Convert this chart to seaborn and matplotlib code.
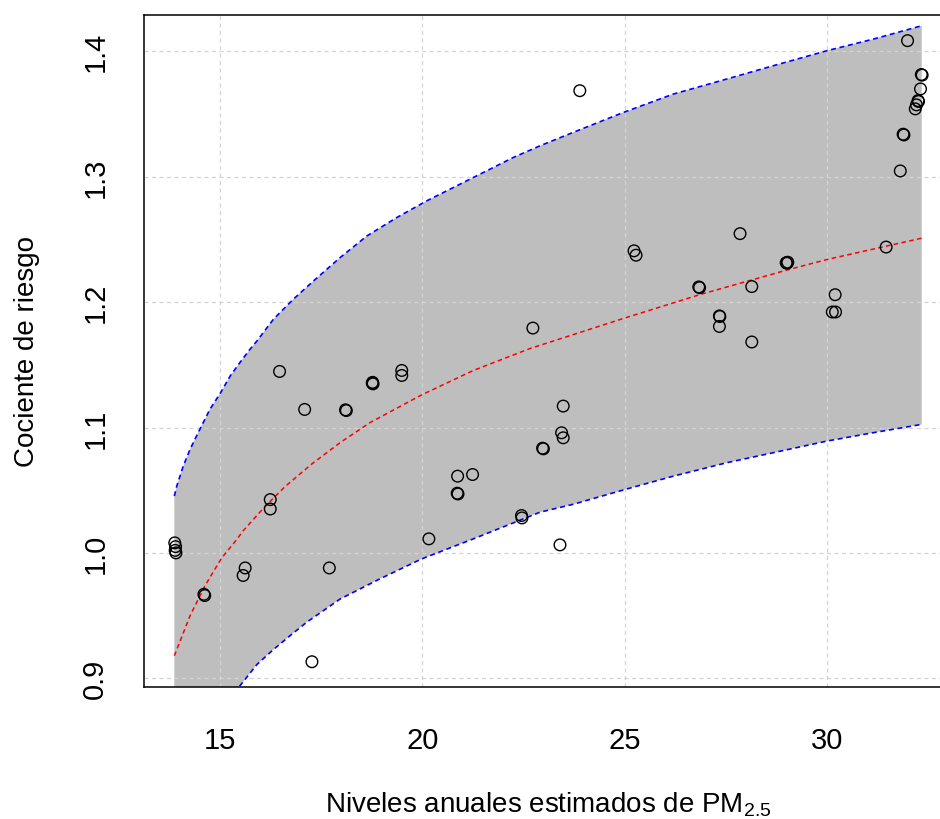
import numpy as np
import pandas as pd
import matplotlib
matplotlib.use("Agg")
import matplotlib.pyplot as plt
import seaborn as sns

# ---------------- data ----------------
pm_x = [13.88, 13.90, 13.89, 13.91,
        14.60, 14.62,
        15.62, 15.57,
        16.24, 16.24,
        16.47, 17.09, 17.27, 17.70,
        18.10, 18.12,
        18.76, 18.78, 18.77,
        19.49, 19.49,
        20.16, 20.87, 21.24,
        20.86, 20.88,
        22.45, 22.46,
        22.73,
        22.97, 22.99,
        23.40, 23.48, 23.44, 23.48,
        23.89,
        25.23, 25.28,
        26.83, 26.85,
        27.34, 27.35, 27.34,
        27.85, 28.14, 28.14,
        28.99, 29.01, 29.03,
        30.20, 30.13, 30.21,
        31.46, 31.81,
        31.88, 31.90,
        31.99,
        32.33, 32.35,
        32.31, 32.25, 32.26, 32.21, 32.18]
rr_y = [1.008, 1.005, 1.002, 1.000,
        0.967, 0.966,
        0.988, 0.982,
        1.0425, 1.035,
        1.1447, 1.1144, 0.9132, 0.988,
        1.1141, 1.1135,
        1.1354, 1.1348, 1.1360,
        1.1455, 1.1415,
        1.0112, 1.0612, 1.0625,
        1.0476, 1.0470,
        1.0298, 1.0279,
        1.1793,
        1.0835, 1.0830,
        1.0064, 1.1171, 1.0958, 1.0918,
        1.3686,
        1.2409, 1.2374,
        1.2121, 1.2115,
        1.1890, 1.1885, 1.1806,
        1.2546, 1.2124, 1.1682,
        1.2314, 1.2310, 1.2318,
        1.2059, 1.1921, 1.1921,
        1.2439, 1.3046,
        1.3339, 1.3333,
        1.4085,
        1.3815, 1.3810,
        1.3700, 1.3607, 1.3600, 1.3573, 1.3541]

# central estimate (red dashed)
fit_x = [13.87, 14.26, 14.63, 15.04, 15.37, 15.58, 16.11, 16.61, 17.27, 17.97,
         18.71, 19.98, 21.26, 22.66, 24.97, 26.86, 29.00, 30.00, 32.34]
fit_y = [0.918, 0.950, 0.974, 0.996, 1.009, 1.018, 1.037, 1.053, 1.071, 1.088,
         1.104, 1.126, 1.1455, 1.163, 1.187, 1.206, 1.2255, 1.234, 1.251]

# upper band (blue dashed)
up_x = [13.87, 13.93, 14.09, 14.26, 14.46, 14.75, 15.00, 15.25, 15.49, 15.74,
        15.91, 16.32, 16.81, 17.31, 17.97, 18.63, 19.37, 20.11, 21.26, 22.25,
        22.91, 23.73, 24.97, 26.20, 27.52, 28.67, 30.00, 31.15, 32.34]
up_y = [1.0453, 1.0533, 1.0693, 1.0827, 1.0960, 1.1146, 1.1270, 1.1411, 1.1518, 1.1624,
        1.1690, 1.1864, 1.2023, 1.2169, 1.2356, 1.2528, 1.2675, 1.2808, 1.2994, 1.3154,
        1.3247, 1.3354, 1.3513, 1.3659, 1.3779, 1.3885, 1.4005, 1.4098, 1.4204]

# lower band (blue dashed); values left of 15.5 lie below the visible range
lo_x = [13.87, 14.26, 14.75, 15.00, 15.49, 15.91, 16.32, 16.73, 17.14, 17.97,
        18.95, 19.98, 21.26, 22.91, 23.73, 25.01, 26.20, 27.52, 28.67, 30.00,
        31.15, 32.34]
lo_y = [0.806, 0.834, 0.867, 0.882, 0.8940, 0.9110, 0.9230, 0.9340, 0.9447, 0.9633,
        0.9793, 0.9952, 1.0112, 1.0325, 1.0388, 1.0506, 1.0612, 1.0719, 1.0799, 1.0892,
        1.0959, 1.1025]

x_ticks = [15, 20, 25, 30]
y_ticks = [0.9, 1.0, 1.1, 1.2, 1.3, 1.4]
x_label = "Niveles anuales estimados de PM$_{\\mathrm{2.5}}$"
y_label = "Cociente de riesgo"

# ---------------- style ----------------
sns.set_theme(style="white")
plt.rcParams["font.family"] = ["Liberation Sans", "DejaVu Sans"]
plt.rcParams["mathtext.fontset"] = "custom"
plt.rcParams["mathtext.rm"] = "Liberation Sans"
plt.rcParams["mathtext.it"] = "Liberation Sans:italic"
plt.rcParams["mathtext.bf"] = "Liberation Sans:bold"

W, H = 940, 820
fig = plt.figure(figsize=(W / 100, H / 100), dpi=100)
# axes box in pixels: left 144, right 952 (cropped), top 15.7, bottom 687.7
ax = fig.add_axes([144 / W, 1 - 687.7 / H, (952 - 144) / W, (687.7 - 15.7) / H])

# band polygon
poly_x = list(up_x) + list(lo_x[::-1])
poly_y = list(up_y) + list(lo_y[::-1])
ax.fill(poly_x, poly_y, color="#BEBEBE", lw=0, zorder=1)

# grid (dotted lightgray) above the band
for xv in x_ticks:
    ax.axvline(xv, color="#D3D3D3", lw=0.9, ls=(0, (3.2, 2.8)), zorder=2)
for yv in y_ticks:
    ax.axhline(yv, color="#D3D3D3", lw=0.9, ls=(0, (3.2, 2.8)), zorder=2)

df_up = pd.DataFrame({"x": up_x, "y": up_y})
df_lo = pd.DataFrame({"x": lo_x, "y": lo_y})
df_fit = pd.DataFrame({"x": fit_x, "y": fit_y})
sns.lineplot(data=df_up, x="x", y="y", ax=ax, color="#0000FF", lw=1.2,
             linestyle=(0, (3.0, 2.2)), zorder=3)
sns.lineplot(data=df_lo, x="x", y="y", ax=ax, color="#0000FF", lw=1.2,
             linestyle=(0, (3.0, 2.2)), zorder=3)
sns.lineplot(data=df_fit, x="x", y="y", ax=ax, color="#FF0000", lw=1.1,
             linestyle=(0, (3.0, 2.2)), zorder=3)

df_pts = pd.DataFrame({"x": pm_x, "y": rr_y})
sns.scatterplot(data=df_pts, x="x", y="y", ax=ax, marker="o", s=70,
                facecolor="none", edgecolor="black", linewidth=1.0, zorder=4)

ax.set_xlim(13.12, 33.088)
ax.set_ylim(0.8933, 1.4292)
ax.set_xticks(x_ticks)
ax.set_yticks(y_ticks)
ax.set_xticklabels([str(v) for v in x_ticks])
ax.set_yticklabels([f"{v:.1f}" for v in y_ticks])
ax.set_xlabel("")
ax.set_ylabel("")

for side in ["left", "bottom", "top"]:
    ax.spines[side].set_visible(True)
    ax.spines[side].set_color("black")
    ax.spines[side].set_linewidth(1.1)
ax.spines["right"].set_visible(False)

ax.tick_params(axis="both", which="major", direction="out", length=12, width=1.1,
               color="black", labelsize=21, labelcolor="black")
ax.tick_params(axis="x", pad=16)
ax.tick_params(axis="y", pad=13)
for lab in ax.get_yticklabels():
    lab.set_rotation(90)
    lab.set_va("center")
    lab.set_ha("right")

fig.text(548 / W, 1 - 813 / H, x_label, ha="center", va="baseline",
         fontsize=20, color="black")
fig.text(27 / W, 1 - 351.7 / H, y_label, rotation=90, ha="center", va="center",
         fontsize=20, color="black")

fig.savefig("out.png", dpi=100)
